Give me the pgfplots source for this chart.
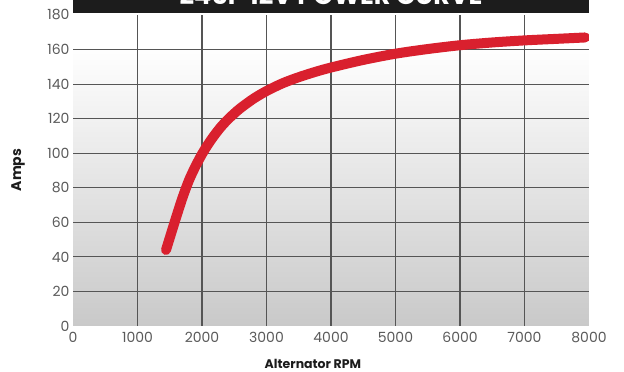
\documentclass[border=0pt]{standalone}
\usepackage{fontspec}
\setmainfont{Poppins}
\usepackage{pgfplots}
\pgfplotsset{compat=1.18}
\definecolor{curvered}{HTML}{D9202E}
\definecolor{band}{HTML}{1C1C1C}
\definecolor{ticklab}{HTML}{5A5A5A}
\definecolor{bgbot}{HTML}{C9C9C9}
\definecolor{gridgray}{HTML}{555555}
\pgfdeclareverticalshading{bgshade}{100bp}{color(0bp)=(bgbot); color(25bp)=(bgbot); color(70bp)=(white); color(100bp)=(white)}
\begin{document}
\begin{tikzpicture}[x=1pt,y=1pt]
\begin{axis}[
  at={(73pt,46pt)}, anchor=south west,
  scale only axis, width=516pt, height=311pt,
  xmin=0, xmax=8000, ymin=0, ymax=180,
  xtick={1000,2000,...,7000}, ytick={20,40,...,160},
  extra x ticks={0,8000}, extra y ticks={0,180},
  extra x tick style={grid=none}, extra y tick style={grid=none},
  axis line style={draw=none},
  major tick length=0pt,
  grid=major, grid style={draw=gridgray, line width=1.2pt},
  axis background/.style={shade, shading=bgshade},
  /pgf/number format/assume math mode=true,
  /pgf/number format/1000 sep={},
  tick label style={font=\fontsize{14}{14}\selectfont, text=ticklab},
  xticklabel style={yshift=-3pt},
  xlabel={Alternator RPM}, ylabel={Amps},
  xlabel style={at={(axis description cs:0.465,-0.1222)}, anchor=center, inner sep=0pt, font=\bfseries\fontsize{12.5}{12.5}\selectfont, text=band},
  ylabel style={at={(axis description cs:-0.1066,0.5016)}, anchor=center, inner sep=0pt, font=\bfseries\fontsize{14}{14}\selectfont, text=band},
]
\addplot[curvered, line width=10pt, line cap=round, smooth, tension=0.5] coordinates {
(1442,44) (1500,51) (1600,63) (1700,74.5) (1800,84.5) (1900,92.5) (2000,99.5)
(2100,105.5) (2200,110.8) (2300,115.5) (2400,119.5) (2500,123) (2600,126.2)
(2800,131.6) (3000,136) (3250,140.5) (3500,144) (3750,147) (4000,149.6)
(4500,154) (5000,157.6) (5500,160.3) (6000,162.5) (6500,164.1) (7000,165.3)
(7500,166.2) (7940,167)
};
\end{axis}
\fill[band] (73pt,359pt) rectangle (589pt,400pt);
\node[text=white, font=\bfseries\fontsize{25.5}{25.5}\selectfont, anchor=base, inner sep=0pt] at (331pt,367.5pt) {245P 12V POWER CURVE};
\pgfresetboundingbox
\useasboundingbox (0,0) rectangle (624pt,372pt);
\end{tikzpicture}
\end{document}
